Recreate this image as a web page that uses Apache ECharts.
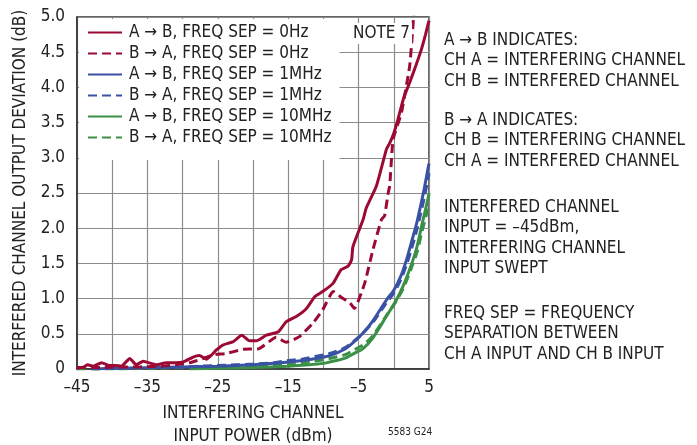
<!DOCTYPE html>
<html><head><meta charset="utf-8">
<script src="https://cdn.jsdelivr.net/npm/echarts@6/dist/echarts.min.js"></script>
<style>html,body{margin:0;padding:0;background:#fff}#c{width:697px;height:445px}</style>
</head><body><div id="c"></div>
<script>
// ---- data ----
const seriesNames = [
  'A \u2192 B, FREQ SEP = 0Hz',
  'B \u2192 A, FREQ SEP = 0Hz',
  'A \u2192 B, FREQ SEP = 1MHz',
  'B \u2192 A, FREQ SEP = 1MHz',
  'A \u2192 B, FREQ SEP = 10MHz',
  'B \u2192 A, FREQ SEP = 10MHz'
];
const redSolidX = [-45,-44,-43.5,-42.7,-41.5,-40.4,-39.5,-38.7,-37.5,-36.6,-35.6,-34.5,-33.7,-32.3,-31,-29.9,-28.5,-27.6,-26.6,-25.2,-24.3,-22.8,-21.6,-20.5,-19.5,-18.1,-16.4,-15.3,-13.8,-12.4,-11.2,-10.1,-8.6,-7.5,-6.5,-6.0,-5.8,-4.37,-3.9,-2.47,-1.05,-0.58,0,0.6,1.4,2.26,3.1,3.92,4.5,5];
const redSolidY = [0.01,0.03,0.06,0.04,0.09,0.05,0.05,0.04,0.15,0.06,0.11,0.08,0.06,0.09,0.09,0.10,0.17,0.19,0.14,0.27,0.34,0.39,0.48,0.40,0.40,0.48,0.53,0.67,0.75,0.86,1.03,1.10,1.22,1.41,1.46,1.55,1.74,2.12,2.29,2.60,3.12,3.21,3.35,3.55,3.85,4.07,4.30,4.54,4.75,4.95];
const redDashX = [-45,-42,-39,-36,-33,-31,-29,-27.6,-25.7,-23.8,-21.4,-19.1,-16.7,-15.3,-13.4,-11.5,-10.1,-8.6,-7.2,-6.3,-5.6,-4.13,-2.95,-1.76,-1.3,-0.8,-0.58,-0.1,1.08,2.26,2.83,3.2];
const redDashY = [0.02,0.02,0.03,0.03,0.04,0.06,0.09,0.13,0.20,0.22,0.28,0.29,0.45,0.38,0.46,0.65,0.84,1.10,1.00,0.95,0.86,1.22,1.70,2.12,2.18,2.50,2.60,3.26,3.64,4.31,5.02,5.60];
const blueSolidX = [-42.5,-40,-35,-30,-25,-20,-17,-15,-13,-11,-9.1,-7,-5.5,-4.37,-3,-1.05,0,1,1.8,2.5,3.2,3.68,4.3,4.86,5];
const blueSolidY = [0.00,0.01,0.02,0.03,0.04,0.06,0.08,0.10,0.12,0.15,0.19,0.28,0.40,0.51,0.68,0.98,1.12,1.32,1.55,1.80,2.05,2.26,2.55,2.85,2.92];
const blueDashX = [-43,-40,-35,-30,-25,-20,-17,-15,-13,-11,-9.1,-7,-5.5,-4.37,-3,-1.05,0,1,1.8,2.5,3.2,3.68,4.3,4.86,5];
const blueDashY = [0.00,0.01,0.02,0.03,0.05,0.07,0.09,0.12,0.14,0.18,0.22,0.30,0.41,0.51,0.66,0.94,1.08,1.27,1.48,1.70,1.95,2.15,2.42,2.70,2.78];
const greenSolidX = [-29,-25,-20,-15,-12,-10,-9.1,-7,-5.5,-4.37,-3,-1.05,0.37,1.5,2.73,3.3,4,4.86,5];
const greenSolidY = [0.00,0.01,0.02,0.04,0.06,0.08,0.10,0.15,0.23,0.29,0.44,0.75,0.98,1.22,1.55,1.74,2.05,2.42,2.50];
const greenDashX = [-45,-40,-35,-30,-25,-20,-15,-12,-10,-9.1,-7,-5.5,-4.37,-3,-1.05,0.37,1.5,2.73,3.3,4,4.86,5];
const greenDashY = [0.00,0.00,0.01,0.02,0.03,0.04,0.07,0.10,0.13,0.15,0.20,0.28,0.34,0.47,0.76,0.97,1.18,1.50,1.66,1.95,2.28,2.35];
const xTickLabels = [-45,-35,-25,-15,-5,5];
const yTickLabels = ['0','0.5','1.0','1.5','2.0','2.5','3.0','3.5','4.0','4.5','5.0'];
const noteText = 'NOTE 7';
const sideTexts = [
  'A \u2192 B INDICATES:\nCH A = INTERFERING CHANNEL\nCH B = INTERFERED CHANNEL',
  'B \u2192 A INDICATES:\nCH B = INTERFERING CHANNEL\nCH A = INTERFERED CHANNEL',
  'INTERFERED CHANNEL\nINPUT = \u201345dBm,\nINTERFERING CHANNEL\nINPUT SWEPT',
  'FREQ SEP = FREQUENCY\nSEPARATION BETWEEN\nCH A INPUT AND CH B INPUT'
];
const figId = '5583 G24';

const FONT = '"DejaVu Sans Condensed",sans-serif';
const RED = '#9c0a34', BLUE = '#3a52a3', GREEN = '#3a9046';
const zip = (xs, ys) => xs.map((x, i) => [x, ys[i]]);
const mk = (name, xs, ys, color, dashed, smooth) => ({
  name, type: 'line', data: zip(xs, ys), showSymbol: false, symbol: 'none',
  smooth: smooth, clip: true,
  lineStyle: { color, width: 3, type: dashed ? [9, 5] : 'solid' },
  itemStyle: { color }
});

const chart = echarts.init(document.getElementById('c'));
chart.setOption({
  animation: false,
  backgroundColor: '#fff',
  textStyle: { fontFamily: FONT },
  grid: { left: 77, right: 268, top: 17, bottom: 76, show: true, borderColor: '#333', borderWidth: 1.5,
          backgroundColor: 'rgba(0,0,0,0)', containLabel: false, outerBoundsMode: 'none' },
  xAxis: {
    type: 'value', min: -45, max: 5, interval: 5,
    axisLine: { onZero: false, lineStyle: { color: '#333', width: 1.5 } },
    axisTick: { show: false },
    splitLine: { show: true, lineStyle: { color: '#8c8c8c', width: 1.2, type: 'solid', opacity: 1 } },
    axisLabel: { color: '#222', fontSize: 17, fontFamily: FONT, margin: 10,
      formatter: v => xTickLabels.indexOf(v) >= 0 ? String(v).replace('-', '\u2013') : '' },
    name: 'INTERFERING CHANNEL\nINPUT POWER (dBm)', nameLocation: 'middle', nameGap: 33,
    nameTextStyle: { color: '#222', fontSize: 17, fontFamily: FONT, lineHeight: 23, verticalAlign: 'top' }
  },
  yAxis: {
    type: 'value', min: 0, max: 5, interval: 0.5,
    axisLine: { show: true, onZero: false, lineStyle: { color: '#333', width: 1.5 } },
    axisTick: { show: false },
    splitLine: { show: true, lineStyle: { color: '#8c8c8c', width: 1.2, type: 'solid', opacity: 1 } },
    axisLabel: { color: '#222', fontSize: 17, fontFamily: FONT, margin: 12,
      formatter: (v) => yTickLabels[Math.round(v * 2)] },
    name: 'INTERFERED CHANNEL OUTPUT DEVIATION (dB)', nameLocation: 'middle', nameGap: 48,
    nameTextStyle: { color: '#222', fontSize: 17, fontFamily: FONT }
  },
  legend: {
    orient: 'vertical', left: 79, top: 19, data: seriesNames,
    backgroundColor: '#fff', padding: [5, 8, 14, 8],
    itemWidth: 34, itemHeight: 12, itemGap: 4,
    itemStyle: { opacity: 0 },
    textStyle: { color: '#222', fontSize: 17, fontFamily: FONT, padding: [0, 0, 0, 2] }
  },
  graphic: [
    { type: 'text', left: 351, top: 23, z: 100,
      style: { text: noteText, fill: '#222', font: '17px ' + FONT, backgroundColor: '#fff', padding: [2, 2] } },
    { type: 'text', left: 444, top: 30, style: { text: sideTexts[0], fill: '#222', font: '17px ' + FONT, lineHeight: 20.5 } },
    { type: 'text', left: 444, top: 110, style: { text: sideTexts[1], fill: '#222', font: '17px ' + FONT, lineHeight: 20.5 } },
    { type: 'text', left: 444, top: 197, style: { text: sideTexts[2], fill: '#222', font: '17px ' + FONT, lineHeight: 20.5 } },
    { type: 'text', left: 444, top: 303, style: { text: sideTexts[3], fill: '#222', font: '17px ' + FONT, lineHeight: 20.5 } },
    { type: 'text', left: 388, top: 427, style: { text: figId, fill: '#222', font: '10px ' + FONT } }
  ],
  series: [
    mk(seriesNames[4], greenSolidX, greenSolidY, GREEN, false, 0.3),
    mk(seriesNames[5], greenDashX, greenDashY, GREEN, true, 0.3),
    mk(seriesNames[2], blueSolidX, blueSolidY, BLUE, false, 0.3),
    mk(seriesNames[3], blueDashX, blueDashY, BLUE, true, 0.3),
    mk(seriesNames[0], redSolidX, redSolidY, RED, false, 0.15),
    mk(seriesNames[1], redDashX, redDashY, RED, true, 0.15)
  ]
});
</script></body></html>
